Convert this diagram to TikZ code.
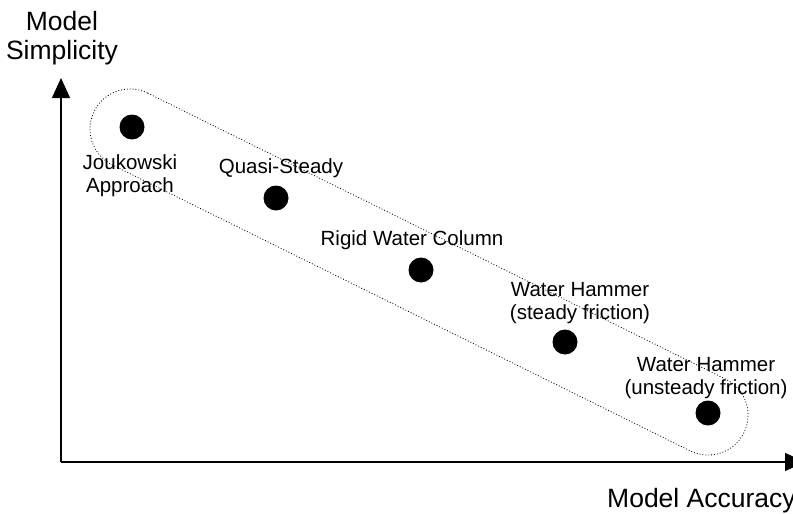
\documentclass[tikz,border=0pt]{standalone}
\usepackage{fontspec}
\setmainfont{Liberation Sans}
\usetikzlibrary{arrows.meta}
\tikzset{
  pt/.style={circle,fill=black,inner sep=0pt,minimum size=25pt},
  lbl/.style={align=center,inner sep=0pt,font=\fontsize{20.5}{23}\selectfont},
  axlbl/.style={align=center,inner sep=0pt,font=\fontsize{26.5}{29}\selectfont},
  axis/.style={line width=1.3pt,-{Triangle[length=20pt,width=18pt]}},
  grp/.style={line width=0.8pt,dash pattern=on 0.9pt off 2pt}
}
\begin{document}
\begin{tikzpicture}[x=1pt,y=1pt]
\useasboundingbox (0,0) rectangle (793,-514);
\clip (0,0) rectangle (793,-514);
\coordinate (O) at (61,-462);
\coordinate (ytip) at (61,-78);
\coordinate (xtip) at (805,-462);
\draw[axis] (O) -- (ytip);
\draw[axis] (O) -- (xtip);
\node[axlbl] (ylab) at (62,-38) {Model\\Simplicity};
\node[axlbl,anchor=base west] (xlab) at (607,-507) {Model Accuracy};
% group outline
\begin{scope}[shift={(130,-129)},rotate=-26.33]
\draw[grp] (0,40) -- (645,40) arc (90:-90:40) -- (0,-40) arc (270:90:40) -- cycle;
\end{scope}
\node[pt] (p1) at (132,-127) {};
\node[pt] (p2) at (276,-198) {};
\node[pt] (p3) at (421,-270) {};
\node[pt] (p4) at (565,-342) {};
\node[pt] (p5) at (708,-413) {};
\node[lbl] (l1) at (130,-176) {Joukowski\\Approach};
\node[lbl] (l2) at (281,-168) {Quasi-Steady};
\node[lbl] (l3) at (412,-240) {Rigid Water Column};
\node[lbl] (l4) at (580,-303) {Water Hammer\\(steady friction)};
\node[lbl] (l5) at (706,-378) {Water Hammer\\(unsteady friction)};
\end{tikzpicture}
\end{document}
